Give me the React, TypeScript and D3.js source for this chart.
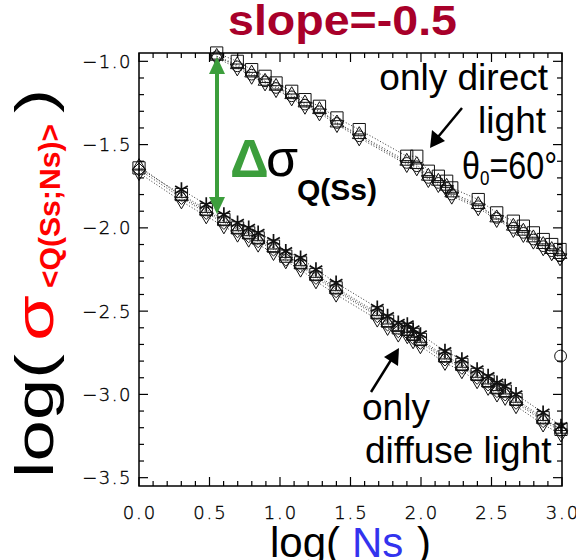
import React from "react";
import * as d3 from "d3";

// ---------- data ----------
const upperX = [0.551, 0.697, 0.799, 0.894, 0.972, 1.083, 1.177, 1.28, 1.404, 1.562, 1.899, 1.97, 2.052, 2.123, 2.182, 2.218, 2.406, 2.537, 2.655, 2.726, 2.797, 2.867, 2.927, 2.986];
const upperSquare = [-0.95, -1.0, -1.05, -1.09, -1.13, -1.18, -1.23, -1.27, -1.34, -1.41, -1.57, -1.57, -1.66, -1.69, -1.72, -1.76, -1.83, -1.91, -1.96, -1.99, -2.03, -2.07, -2.1, -2.13];
const upperTriUp = [-0.97, -1.02, -1.07, -1.12, -1.15, -1.2, -1.25, -1.29, -1.37, -1.44, -1.6, -1.62, -1.69, -1.72, -1.75, -1.79, -1.86, -1.94, -1.99, -2.02, -2.06, -2.1, -2.13, -2.16];
const upperTriDown = [-0.98, -1.04, -1.09, -1.13, -1.17, -1.22, -1.27, -1.31, -1.38, -1.46, -1.62, -1.64, -1.71, -1.74, -1.77, -1.81, -1.88, -1.95, -2.01, -2.04, -2.08, -2.12, -2.15, -2.18];
const upperCircle = [-0.97, -1.03, -1.08, -1.12, -1.16, -1.21, -1.26, -1.3, -1.37, -1.45, -1.61, -1.63, -1.7, -1.73, -1.76, -1.8, -1.87, -1.94, -2.0, -2.03, -2.07, -2.11, -2.14, -2.17];

const lowerX = [0, 0.301, 0.477, 0.602, 0.699, 0.778, 0.845, 0.954, 1.041, 1.146, 1.255, 1.398, 1.69, 1.763, 1.839, 1.903, 1.944, 1.996, 2.17, 2.29, 2.398, 2.476, 2.539, 2.597, 2.674, 2.866, 2.993];
const lowerSquare = [-1.64, -1.8, -1.89, -1.95, -2.0, -2.03, -2.06, -2.11, -2.17, -2.21, -2.28, -2.36, -2.51, -2.56, -2.6, -2.61, -2.64, -2.67, -2.77, -2.82, -2.88, -2.92, -2.96, -2.98, -3.03, -3.14, -3.21];
const lowerAsterisk = [null, -1.77, -1.86, -1.92, -1.97, -2.0, -2.03, -2.08, -2.14, -2.18, -2.25, -2.33, -2.48, -2.53, -2.57, -2.58, -2.61, -2.64, -2.74, -2.79, -2.85, -2.89, -2.93, -2.95, -3.0, -3.11, -3.19];
const lowerTriUp = [-1.63, -1.81, -1.9, -1.96, -2.01, -2.04, -2.07, -2.12, -2.17, -2.22, -2.29, -2.37, -2.52, -2.57, -2.6, -2.62, -2.65, -2.68, -2.78, -2.83, -2.89, -2.93, -2.97, -2.99, -3.04, -3.15, -3.21];
const lowerTriDown = [-1.67, -1.84, -1.93, -1.99, -2.04, -2.07, -2.1, -2.15, -2.2, -2.25, -2.32, -2.4, -2.55, -2.6, -2.64, -2.65, -2.68, -2.71, -2.81, -2.86, -2.92, -2.96, -3.0, -3.02, -3.07, -3.18, -3.24];
const lowerDiamond = [-1.65, -1.82, -1.91, -1.97, -2.02, -2.05, -2.08, -2.13, -2.19, -2.23, -2.3, -2.38, -2.53, -2.58, -2.62, -2.63, -2.66, -2.69, -2.79, -2.84, -2.9, -2.94, -2.98, -3.0, -3.05, -3.16, -3.22];

const extraX = [2.99];
const extraY = [-2.77];

const xTicks = [0, 0.5, 1, 1.5, 2, 2.5, 3];
const xTickLabels = ["0.0", "0.5", "1.0", "1.5", "2.0", "2.5", "3.0"];
const yTicks = [-1, -1.5, -2, -2.5, -3, -3.5];
const yTickLabels = ["\u22121.0", "\u22121.5", "\u22122.0", "\u22122.5", "\u22123.0", "\u22123.5"];

// ---------- layout ----------
const W = 576;
const H = 560;
const L = 139, R = 562, T = 53, B = 486;
const SANS = "'Liberation Sans', Arial, Helvetica, sans-serif";
const TICKFONT = "'DejaVu Sans', sans-serif";
const GREEN = "#3c9e3c";
const TITLE_RED = "#a8002a";

type Series = { xs: number[]; ys: (number | null)[]; sym: any; size: number; rot?: number; sw?: number };

export default function App() {
  const x = d3.scaleLinear().domain([0, 3]).range([L, R]);
  const y = d3.scaleLinear().domain([-0.95, -3.55]).range([T, B]);

  const series: Series[] = [
    { xs: upperX, ys: upperSquare, sym: d3.symbolSquare2, size: 190 },
    { xs: upperX, ys: upperTriUp, sym: d3.symbolTriangle2, size: 135 },
    { xs: upperX, ys: upperTriDown, sym: d3.symbolTriangle2, size: 135, rot: 180 },
    { xs: upperX, ys: upperCircle, sym: d3.symbolCircle, size: 90 },
    { xs: lowerX, ys: lowerSquare, sym: d3.symbolSquare2, size: 190 },
    { xs: lowerX, ys: lowerTriUp, sym: d3.symbolTriangle2, size: 125 },
    { xs: lowerX, ys: lowerTriDown, sym: d3.symbolTriangle2, size: 125, rot: 180 },
    { xs: lowerX, ys: lowerDiamond, sym: d3.symbolDiamond2, size: 110 },
    { xs: lowerX, ys: lowerAsterisk, sym: d3.symbolAsterisk, size: 150, sw: 1.7 },
    { xs: extraX, ys: extraY, sym: d3.symbolCircle, size: 110 },
  ];

  const line = d3
    .line<[number, number | null]>()
    .defined((d) => d[1] !== null)
    .x((d) => x(d[0]))
    .y((d) => y(d[1] as number));

  const minorX = x.ticks(30);
  const minorY = y.ticks(26);
  const isMajor = (v: number) => Math.abs(v * 2 - Math.round(v * 2)) < 1e-6;

  return (
    <svg width={W} height={H} style={{ position: "absolute", left: 0, top: 0, background: "#fff" }}>
      <rect x={0} y={0} width={W} height={H} fill="#fff" />

      {/* dotted connecting lines */}
      {series.map((s, i) => (
        <path
          key={"l" + i}
          d={line(s.xs.map((v, j) => [v, s.ys[j]] as [number, number | null])) || ""}
          fill="none"
          stroke="#333"
          strokeWidth={1}
          strokeDasharray="1 2"
        />
      ))}

      {/* markers */}
      {series.map((s, i) => {
        const p = d3.symbol().type(s.sym).size(s.size)() || "";
        return (
          <g key={"m" + i}>
            {s.xs.map((v, j) =>
              s.ys[j] === null ? null : (
                <path
                  key={j}
                  d={p}
                  transform={`translate(${x(v)},${y(s.ys[j] as number)})${s.rot ? ` rotate(${s.rot})` : ""}`}
                  fill="none"
                  stroke="#111"
                  strokeWidth={s.sw || 1}
                />
              )
            )}
          </g>
        );
      })}

      {/* axes box */}
      <rect x={L} y={T} width={R - L} height={B - T} fill="none" stroke="#000" strokeWidth={1.5} />
      {minorX.map((v, i) => {
        const len = isMajor(v) ? 9 : 5;
        return (
          <g key={"tx" + i}>
            <line x1={x(v)} x2={x(v)} y1={B} y2={B - len} stroke="#000" strokeWidth={1.2} />
            <line x1={x(v)} x2={x(v)} y1={T} y2={T + len} stroke="#000" strokeWidth={1.2} />
          </g>
        );
      })}
      {minorY.map((v, i) => {
        const len = isMajor(v) ? 9 : 5;
        return (
          <g key={"ty" + i}>
            <line x1={L} x2={L + len} y1={y(v)} y2={y(v)} stroke="#000" strokeWidth={1.2} />
            <line x1={R} x2={R - len} y1={y(v)} y2={y(v)} stroke="#000" strokeWidth={1.2} />
          </g>
        );
      })}

      {/* tick labels */}
      {xTicks.map((v, i) => (
        <text
          key={"xl" + i}
          x={x(v) + 1}
          y={519}
          textAnchor="middle"
          fontFamily={TICKFONT}
          fontWeight={200}
          fontSize={18}
          letterSpacing={2}
          fill="#000"
          stroke="#000"
          strokeWidth={0.35}
        >
          {xTickLabels[i]}
        </text>
      ))}
      {yTicks.map((v, i) => (
        <text
          key={"yl" + i}
          x={132}
          y={y(v) + 6.5}
          textAnchor="end"
          fontFamily={TICKFONT}
          fontWeight={200}
          fontSize={18}
          letterSpacing={1.5}
          fill="#000"
          stroke="#000"
          strokeWidth={0.35}
        >
          {yTickLabels[i]}
        </text>
      ))}

      {/* x axis title */}
      <text x={270} y={557} fontFamily={SANS} fontSize={42} fill="#000">log(</text>
      <text x={352} y={557} fontFamily={SANS} fontSize={42} fill="#3333ee">Ns</text>
      <text x={417} y={557} fontFamily={SANS} fontSize={42} fill="#000">)</text>

      {/* y axis title (rotated) */}
      <text transform="translate(53,478) rotate(-90)" fontFamily={SANS} fontSize={54} textLength={124} lengthAdjust="spacingAndGlyphs" fill="#000">log(</text>
      <text transform="translate(53,341) rotate(-90)" fontFamily={SANS} fontSize={54} textLength={46} lengthAdjust="spacingAndGlyphs" fill="#ff0000">σ</text>
      <text transform="translate(60,288) rotate(-90)" fontFamily={SANS} fontWeight="bold" fontSize={29} textLength={164} lengthAdjust="spacingAndGlyphs" fill="#ff0000">{"<Q(Ss;Ns)>"}</text>
      <text transform="translate(53,113) rotate(-90)" fontFamily={SANS} fontSize={54} textLength={24} lengthAdjust="spacingAndGlyphs" fill="#000">)</text>

      {/* title */}
      <text x={228} y={35} fontFamily={SANS} fontWeight="bold" fontSize={42} textLength={229} lengthAdjust="spacingAndGlyphs" fill={TITLE_RED}>slope=-0.5</text>

      {/* green double arrow */}
      <line x1={217} x2={217} y1={72} y2={198} stroke={GREEN} strokeWidth={4} />
      <path d="M217,57 L209,74 L225,74 Z" fill={GREEN} />
      <path d="M217,214 L209,197 L225,197 Z" fill={GREEN} />
      <text x={230} y={177} fontFamily={SANS} fontWeight="bold" fontSize={54} fill={GREEN}>Δ</text>
      <text x={266} y={176} fontFamily={SANS} fontSize={52} fill="#000">σ</text>
      <text x={297} y={200} fontFamily={SANS} fontWeight="bold" fontSize={30} fill="#000">Q(Ss)</text>

      {/* direct light annotation */}
      <text x={548} y={90} textAnchor="end" fontFamily={SANS} fontSize={37} fill="#000">only direct</text>
      <text x={546} y={133} textAnchor="end" fontFamily={SANS} fontSize={37} fill="#000">light</text>
      <g transform="translate(462,179) scale(0.85,1)">
        <text x={0} y={0} fontFamily={SANS} fontSize={38} fill="#000">
          θ<tspan fontSize={20} dy={6}>0</tspan>
          <tspan dy={-6}>=60°</tspan>
        </text>
      </g>
      <line x1={462} y1={108} x2={438} y2={137} stroke="#000" strokeWidth={2.5} />
      <path d="M430,148 L432,130 L445,141 Z" fill="#000" />

      {/* diffuse light annotation */}
      <text x={362} y={420} fontFamily={SANS} fontSize={37} fill="#000">only</text>
      <text x={365} y={463} fontFamily={SANS} fontSize={37} fill="#000">diffuse light</text>
      <line x1={371} y1={392} x2={391} y2={360} stroke="#000" strokeWidth={2.5} />
      <path d="M399,348 L384,357 L398,366 Z" fill="#000" />
    </svg>
  );
}
